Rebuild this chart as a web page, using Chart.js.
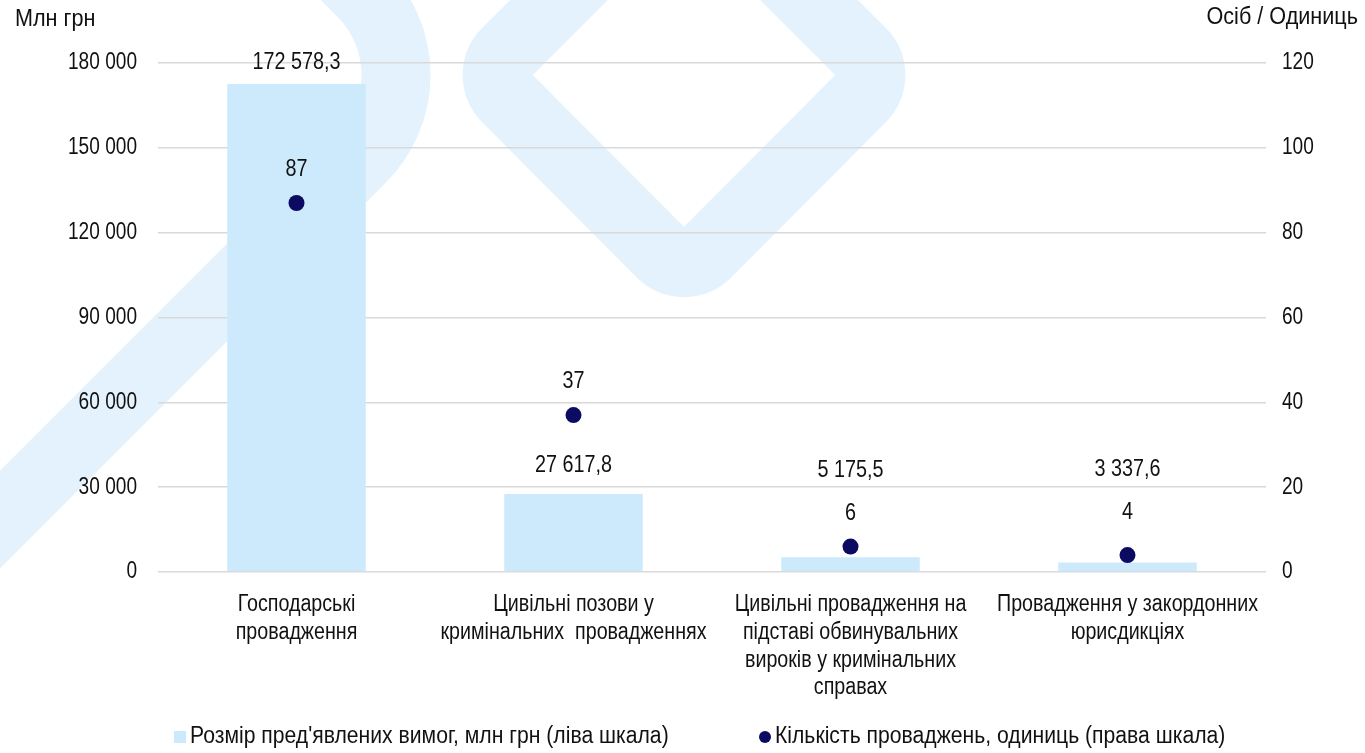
<!DOCTYPE html>
<html>
<head>
<meta charset="utf-8">
<script src="https://cdn.jsdelivr.net/npm/chart.js@4.4.1/dist/chart.umd.min.js"></script>
<style>
  html, body { margin: 0; padding: 0; background: #ffffff; }
  #wrap { position: relative; width: 1365px; height: 753px; }
</style>
</head>
<body>
<div id="wrap"><canvas id="c" width="1365" height="753"></canvas></div>
<script>
// ---- data ----
const categories = [
  ["Господарські", "провадження"],
  ["Цивільні позови у", "кримінальних  провадженнях"],
  ["Цивільні провадження на", "підставі обвинувальних", "вироків у кримінальних", "справах"],
  ["Провадження у закордонних", "юрисдикціях"]
];
const claimsMlnUah = [172578.3, 27617.8, 5175.5, 3337.6];
const proceedingsCount = [87, 37, 6, 4];
const seriesNames = [
  "Розмір пред'явлених вимог, млн грн (ліва шкала)",
  "Кількість проваджень, одиниць (права шкала)"
];
const leftAxisTitle = "Млн грн";
const rightAxisTitle = "Осіб / Одиниць";

// ---- style ----
const FONT = "'Liberation Sans', Arial, sans-serif";
const FS = 23;
const BAR_COLOR = '#cdeafd';
const DOT_COLOR = '#0b0b62';
const WM_COLOR = '#e3f2fc';
const TEXT = '#111111';

function fmt(v, dec) {
  const s = v.toFixed(dec);
  const parts = s.split('.');
  const intPart = parts[0].replace(/\B(?=(\d{3})+(?!\d))/g, ' ');
  return parts.length > 1 ? intPart + ',' + parts[1] : intPart;
}

// narrow-looking text: regular face squeezed horizontally
function narrowText(ctx, txt, x, y, align, squeeze) {
  ctx.save();
  ctx.translate(x, y);
  ctx.scale(squeeze, 1);
  ctx.font = FS + 'px ' + FONT;
  ctx.fillStyle = TEXT;
  ctx.textAlign = align;
  ctx.textBaseline = 'middle';
  ctx.fillText(txt, 0, 0);
  ctx.restore();
}

const backgroundPlugin = {
  id: 'bgWatermark',
  beforeDraw(chart) {
    const ctx = chart.ctx;
    ctx.save();
    ctx.fillStyle = '#ffffff';
    ctx.fillRect(0, 0, chart.width, chart.height);
    ctx.strokeStyle = WM_COLOR;
    ctx.lineWidth = 69;
    ctx.lineJoin = 'round';
    ctx.lineCap = 'butt';
    // left band
    ctx.beginPath();
    ctx.moveTo(-250, 769.5);
    ctx.arcTo(444.5, 75, 150, -219.5, 117);
    ctx.lineTo(150, -219.5);
    ctx.stroke();
    // diamond
    const L = [484, 75], B = [684, 276], R = [884, 75], T = [684, -125];
    const r = 32;
    ctx.beginPath();
    ctx.moveTo((T[0] + L[0]) / 2, (T[1] + L[1]) / 2);
    ctx.arcTo(L[0], L[1], B[0], B[1], r);
    ctx.arcTo(B[0], B[1], R[0], R[1], r);
    ctx.arcTo(R[0], R[1], T[0], T[1], r);
    ctx.arcTo(T[0], T[1], L[0], L[1], r);
    ctx.closePath();
    ctx.stroke();
    ctx.restore();
  }
};

// axis tick labels, drawn from the chart's own scales
const tickLabelsPlugin = {
  id: 'narrowTicks',
  afterDraw(chart, args, opts) {
    const ctx = chart.ctx;
    const y = chart.scales.y, y1 = chart.scales.y1, x = chart.scales.x;
    y.ticks.forEach(t => {
      narrowText(ctx, fmt(t.value, 0), y.right - opts.leftPad, y.getPixelForValue(t.value), 'right', 0.83);
    });
    y1.ticks.forEach(t => {
      narrowText(ctx, fmt(t.value, 0), y1.left + opts.rightPad, y1.getPixelForValue(t.value), 'left', 0.83);
    });
    chart.data.labels.forEach((lab, i) => {
      const px = x.getPixelForValue(i);
      const lines = Array.isArray(lab) ? lab : [lab];
      lines.forEach((ln, k) => {
        narrowText(ctx, ln, px, x.top + opts.xPad + opts.lineHeight * (k + 0.5), 'center', 0.855);
      });
    });
  }
};

const labelsPlugin = {
  id: 'valueLabels',
  afterDatasetsDraw(chart, args, opts) {
    const ctx = chart.ctx;
    chart.data.datasets.forEach((ds, di) => {
      const meta = chart.getDatasetMeta(di);
      const offs = opts.offsets[ds.labelKind];
      meta.data.forEach((el, i) => {
        const v = ds.data[i];
        const txt = ds.labelKind === 'bar' ? fmt(v, 1) : fmt(v, 0);
        narrowText(ctx, txt, el.x, el.y - offs[i], 'center', 0.86);
      });
    });
  }
};

const extrasPlugin = {
  id: 'extras',
  afterDraw(chart) {
    const ctx = chart.ctx;
    // axis titles
    narrowText(ctx, leftAxisTitle, 15, 20, 'left', 0.94);
    narrowText(ctx, rightAxisTitle, 1358, 18, 'right', 0.94);
    // legend
    const ly = 737;
    ctx.save();
    ctx.fillStyle = BAR_COLOR;
    ctx.fillRect(174, ly - 6, 12, 12);
    ctx.fillStyle = DOT_COLOR;
    ctx.beginPath();
    ctx.arc(765, ly, 6, 0, Math.PI * 2);
    ctx.fill();
    ctx.restore();
    narrowText(ctx, chart.data.datasets[1].label, 190, ly, 'left', 0.92);
    narrowText(ctx, chart.data.datasets[0].label, 775, ly, 'left', 0.92);
  }
};

const ctx = document.getElementById('c').getContext('2d');
new Chart(ctx, {
  type: 'bar',
  data: {
    labels: categories,
    datasets: [
      {
        type: 'line',
        label: seriesNames[1],
        data: proceedingsCount,
        yAxisID: 'y1',
        showLine: false,
        pointRadius: 8,
        pointHoverRadius: 8,
        pointBackgroundColor: DOT_COLOR,
        pointBorderColor: DOT_COLOR,
        pointBorderWidth: 0,
        order: 0,
        labelKind: 'point'
      },
      {
        type: 'bar',
        label: seriesNames[0],
        data: claimsMlnUah,
        yAxisID: 'y',
        backgroundColor: BAR_COLOR,
        borderWidth: 0,
        barPercentage: 0.5,
        categoryPercentage: 1.0,
        order: 1,
        labelKind: 'bar'
      }
    ]
  },
  options: {
    responsive: false,
    animation: false,
    events: [],
    layout: { padding: { left: 0, right: 0, top: 63, bottom: 0 } },
    plugins: {
      legend: { display: false },
      tooltip: { enabled: false },
      valueLabels: { offsets: { bar: [21, 28, 87, 93], point: [33, 33, 33, 42] } },
      narrowTicks: { leftPad: 21, rightPad: 16, xPad: 19, lineHeight: 27.7 }
    },
    scales: {
      x: {
        grid: { display: false, drawTicks: false },
        border: { display: false },
        ticks: { display: false, autoSkip: false, maxRotation: 0 },
        afterFit(scale) { scale.height = 181; }
      },
      y: {
        position: 'left',
        min: 0, max: 180000,
        ticks: { display: false, stepSize: 30000 },
        grid: { color: '#d9d9d9', lineWidth: 1.5, drawTicks: false },
        border: { display: false },
        afterFit(scale) { scale.width = 158; }
      },
      y1: {
        position: 'right',
        min: 0, max: 120,
        ticks: { display: false, stepSize: 20 },
        grid: { display: false, drawTicks: false },
        border: { display: false },
        afterFit(scale) { scale.width = 99; }
      }
    }
  },
  plugins: [backgroundPlugin, labelsPlugin, tickLabelsPlugin, extrasPlugin]
});
</script>
</body>
</html>
